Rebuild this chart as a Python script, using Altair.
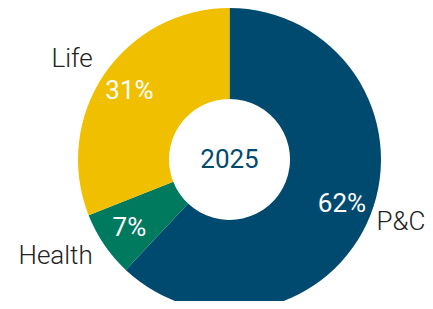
import altair as alt
import pandas as pd

categories = ["P&C", "Health", "Life"]
shares = [62, 7, 31]
colors = ["#004a70", "#007a5e", "#f0c000"]
center_label = "2025"

df = pd.DataFrame({
    "category": categories,
    "share": shares,
    "rank": list(range(len(categories))),
})
df["pct"] = df["share"].astype(str) + "%"

CX, CY = 221.5, 151.5

base = alt.Chart(df).encode(
    theta=alt.Theta("share:Q", stack=True),
    order=alt.Order("rank:Q", sort="ascending"),
    x=alt.value(CX),
    y=alt.value(CY),
)

arcs = base.mark_arc(outerRadius=151.5, innerRadius=60.5).encode(
    color=alt.Color("category:N", scale=alt.Scale(domain=categories, range=colors), legend=None)
)

pct_text = base.mark_text(
    radius=121, align="center", baseline="middle", font="Roboto",
    fontSize=26, fontWeight=400, color="white"
).encode(text="pct:N")

left_labels = base.mark_text(
    radius=175, dx=8, dy=-2, align="right", baseline="middle", font="Roboto",
    fontSize=26, fontWeight=300, color="#222222"
).encode(
    text=alt.condition(alt.datum.category != "P&C", "category:N", alt.value(""))
)

right_labels = base.mark_text(
    radius=172, dx=-13, dy=-1, align="left", baseline="middle", font="Roboto",
    fontSize=26, fontWeight=300, color="#222222"
).encode(
    text=alt.condition(alt.datum.category == "P&C", "category:N", alt.value(""))
)

center = alt.Chart(pd.DataFrame({"label": [center_label]})).mark_text(
    align="center", baseline="middle", font="Roboto", fontSize=26,
    fontWeight=400, color="#004a70"
).encode(text="label:N", x=alt.value(CX), y=alt.value(CY))

chart = alt.layer(arcs, pct_text, left_labels, right_labels, center).properties(
    width=417, height=293,
    autosize=alt.AutoSizeParams(type="none"),
    padding=0,
).configure_view(stroke=None)

chart.save("out.html", embed_options={"renderer": "svg", "actions": False})
